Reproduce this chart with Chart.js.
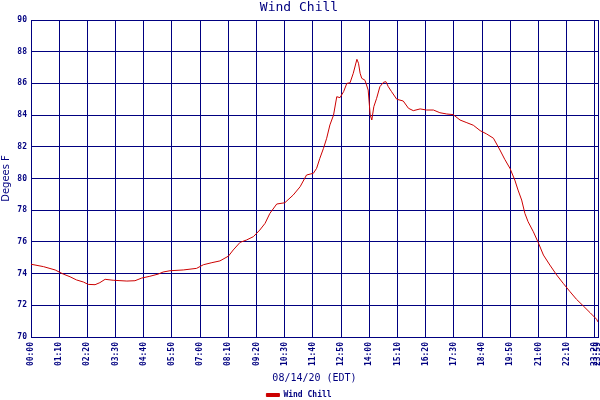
<!DOCTYPE html>
<html>
<head>
<meta charset="utf-8">
<script src="https://cdn.jsdelivr.net/npm/chart.js@4/dist/chart.umd.min.js"></script>
<style>
  html, body { margin: 0; padding: 0; background: #ffffff; }
  canvas { display: block; }
</style>
</head>
<body>
<canvas id="c" width="600" height="400"></canvas>
<script>
// Sample positions (chart minutes from 00:00) and wind chill values (°F)
const sampleMinutes = [0,31,60,80,97,113,130,142,159,171,184,204,238,258,275,295,316,328,345,378,411,428,449,469,490,502,519,535,552,568,581,593,610,630,651,668,684,701,709,717,726,734,742,751,759,767,776,784,792,800,809,813,817,821,829,837,842,846,851,858,866,875,881,887,895,908,924,937,949,966,982,999,1015,1032,1048,1065,1082,1098,1115,1131,1148,1164,1176,1189,1201,1209,1218,1226,1234,1247,1259,1272,1288,1305,1321,1338,1354,1371,1388,1404,1407.5];
const windChill = [74.59,74.44,74.23,73.97,73.8,73.6,73.47,73.32,73.3,73.43,73.64,73.58,73.53,73.55,73.72,73.83,73.97,74.1,74.18,74.23,74.33,74.56,74.69,74.8,75.1,75.49,75.97,76.12,76.33,76.75,77.17,77.8,78.39,78.47,78.96,79.48,80.22,80.33,80.64,81.27,81.9,82.54,83.38,84.0,85.16,85.1,85.48,86.0,86.04,86.64,87.52,87.27,86.64,86.32,86.2,85.58,84.0,83.69,84.53,85.06,85.79,86.07,86.11,85.79,85.48,85.0,84.89,84.43,84.28,84.39,84.32,84.32,84.15,84.07,84.03,83.69,83.52,83.36,83.02,82.81,82.54,81.8,81.21,80.64,79.9,79.27,78.64,77.8,77.27,76.64,75.97,75.17,74.54,73.91,73.39,72.86,72.38,71.96,71.53,71.12,70.95];
const tickLabels = ['00:00','01:10','02:20','03:30','04:40','05:50','07:00','08:10','09:20','10:30','11:40','12:50','14:00','15:10','16:20','17:30','18:40','19:50','21:00','22:10','23:20','23:59'];
const X_MAX = 1407.5;
const Y_MIN = 70, Y_MAX = 90, Y_STEP = 2;

const NAVY = '#000080';
const RED = '#cc0000';

function labelToMinutes(l) {
  const p = l.split(':');
  return Math.min(parseInt(p[0], 10) * 60 + parseInt(p[1], 10), X_MAX);
}
const tickMap = {};
tickLabels.forEach(l => { tickMap[labelToMinutes(l)] = l; });

const points = sampleMinutes.map((m, i) => ({ x: m, y: windChill[i] }));

new Chart(document.getElementById('c'), {
  type: 'line',
  data: {
    datasets: [{
      label: 'Wind Chill',
      data: points,
      borderColor: RED,
      backgroundColor: RED,
      borderWidth: 1,
      pointRadius: 0,
      tension: 0,
      fill: false
    }]
  },
  options: {
    responsive: false,
    animation: false,
    devicePixelRatio: 1,
    layout: { padding: { left: 0, right: 2, top: 0, bottom: -9 } },
    plugins: {
      title: {
        display: true,
        text: 'Wind Chill',
        color: NAVY,
        font: { family: 'DejaVu Sans Mono', size: 13, weight: 'normal' },
        padding: { top: 0, bottom: 4.4 }
      },
      legend: {
        display: true,
        position: 'bottom',
        labels: {
          color: NAVY,
          font: { family: 'DejaVu Sans Mono', size: 8, weight: 'bold' },
          boxWidth: 13,
          boxHeight: 3,
          padding: 4
        }
      },
      tooltip: { enabled: false }
    },
    scales: {
      x: {
        type: 'linear',
        min: 0,
        max: X_MAX,
        afterBuildTicks: (scale) => {
          scale.ticks = tickLabels.map(l => ({ value: labelToMinutes(l) }));
        },
        afterFit: (scale) => {
          scale.height = 50;
          scale.paddingLeft = 0;
          scale.paddingRight = 0;
        },
        grid: { color: NAVY, lineWidth: 1, drawTicks: false },
        border: { color: NAVY, width: 1 },
        ticks: {
          autoSkip: false,
          minRotation: 90,
          maxRotation: 90,
          padding: 5,
          color: NAVY,
          font: { family: 'DejaVu Sans Mono', size: 8, weight: 'bold' },
          callback: (v) => tickMap[v] !== undefined ? tickMap[v] : ''
        },
        title: {
          display: true,
          text: '08/14/20 (EDT)',
          color: NAVY,
          font: { family: 'DejaVu Sans Mono', size: 10, weight: 'normal' },
          padding: { top: 0, bottom: 3 }
        }
      },
      y: {
        min: Y_MIN,
        max: Y_MAX,
        afterFit: (scale) => {
          scale.width = 31;
          scale.paddingTop = 0;
          scale.paddingBottom = 0;
        },
        grid: { color: NAVY, lineWidth: 1, drawTicks: false },
        border: { color: NAVY, width: 1 },
        ticks: {
          stepSize: Y_STEP,
          padding: 4,
          color: NAVY,
          font: { family: 'DejaVu Sans Mono', size: 8, weight: 'bold' }
        },
        title: {
          display: true,
          text: 'Degees F',
          color: NAVY,
          font: { family: 'DejaVu Sans', size: 10, weight: 'normal' },
          padding: { top: 0, bottom: 0 }
        }
      }
    }
  }
});
</script>
</body>
</html>
